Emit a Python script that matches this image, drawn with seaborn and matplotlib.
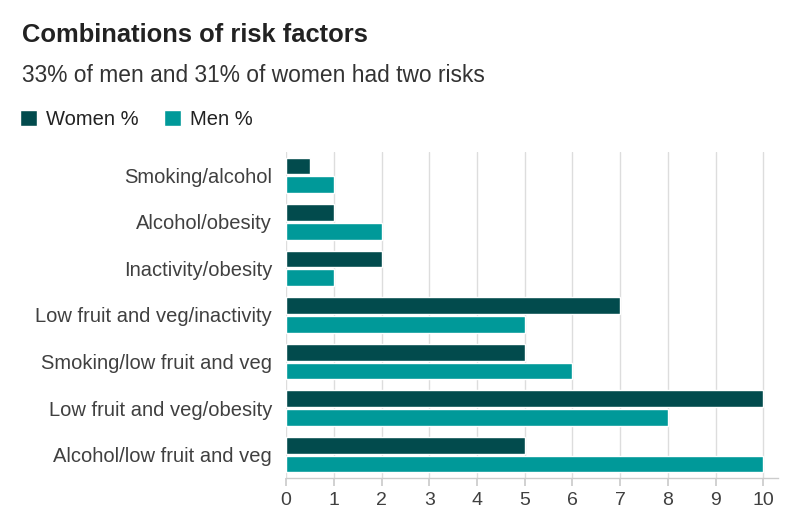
import matplotlib
matplotlib.use("Agg")
import matplotlib.pyplot as plt
import seaborn as sns
import pandas as pd

categories = ["Smoking/alcohol", "Alcohol/obesity", "Inactivity/obesity",
              "Low fruit and veg/inactivity", "Smoking/low fruit and veg",
              "Low fruit and veg/obesity", "Alcohol/low fruit and veg"]
women = [0.5, 1, 2, 7, 5, 10, 5]
men = [1, 2, 1, 5, 6, 8, 10]
series = ["Women %", "Men %"]
colors = ["#024b4d", "#009999"]
x_ticks = list(range(0, 11))

df = pd.DataFrame({
    "category": categories * 2,
    "value": women + men,
    "series": [series[0]] * len(categories) + [series[1]] * len(categories),
})

sns.set_theme(style="white")
plt.rcParams["font.family"] = ["Liberation Sans", "DejaVu Sans"]

fig = plt.figure(figsize=(8.11, 5.25), dpi=100)
ax = fig.add_axes([0.3527, 0.0895, 0.6063, 0.621])

sns.barplot(data=df, y="category", x="value", hue="series", order=categories,
            hue_order=series, palette=colors, orient="h", width=0.8, gap=0.1,
            saturation=1, ax=ax, legend=True)

ax.set_xlim(0, 10.3)
ax.set_ylim(6.5, -0.5)
ax.set_xticks(x_ticks)
ax.set_xticklabels([str(t) for t in x_ticks])
ax.set_xlabel("")
ax.set_ylabel("")
ax.grid(axis="x", color="#dddddd", linewidth=1)
ax.set_axisbelow(True)
for s in ["top", "right", "left"]:
    ax.spines[s].set_visible(False)
ax.spines["bottom"].set_color("#cccccc")
ax.spines["bottom"].set_linewidth(1)
ax.tick_params(axis="x", bottom=True, length=6, color="#cccccc", labelsize=14,
               labelcolor="#404040", pad=4)
ax.tick_params(axis="y", left=False, length=0, labelsize=14.5,
               labelcolor="#404040", pad=10)

handles, labels = ax.get_legend_handles_labels()
ax.get_legend().remove()
fig.legend(handles, labels, loc="upper left", bbox_to_anchor=(0.0247, 0.79),
           ncol=2, frameon=False, fontsize=14.5, handlelength=0.85,
           handleheight=0.85, handletextpad=0.45, columnspacing=1.25,
           borderpad=0, borderaxespad=0, labelcolor="#222222")

fig.text(0.027, 0.933, "Combinations of risk factors", fontsize=18.4,
         fontweight="bold", color="#222222", va="center")
fig.text(0.027, 0.856, "33% of men and 31% of women had two risks", fontsize=16.4,
         color="#333333", va="center")

fig.savefig("out.png", dpi=100, facecolor="white")
